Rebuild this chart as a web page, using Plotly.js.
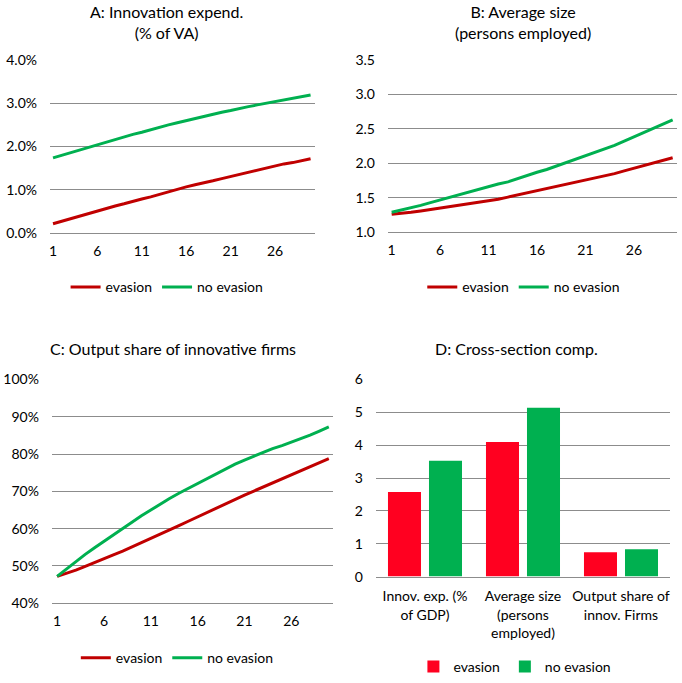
<!DOCTYPE html>
<html>
<head>
<meta charset="utf-8">
<script src="https://cdn.plot.ly/plotly-3.0.1.min.js"></script>
<style>html,body{margin:0;padding:0;background:#fff;}#chart{width:682px;height:683px;}</style>
</head>
<body>
<div id="chart"></div>
<script>
// ---- data ----
const periods = [1,2,3,4,5,6,7,8,9,10,11,12,13,14,15,16,17,18,19,20,21,22,23,24,25,26,27,28,29,30];
const xTickVals = [1,6,11,16,21,26];
const seriesNames = ['evasion','no evasion'];

// Panel A: Innovation expend. (% of VA), in percent
const innovEvasion = [0.22,0.28,0.33,0.39,0.46,0.52,0.58,0.63,0.68,0.74,0.79,0.84,0.90,0.96,1.01,1.07,1.12,1.16,1.21,1.26,1.31,1.36,1.41,1.46,1.51,1.56,1.60,1.63,1.68,1.72];
const innovNoEvasion = [1.74,1.80,1.86,1.92,1.99,2.05,2.11,2.17,2.23,2.28,2.33,2.39,2.44,2.50,2.55,2.60,2.65,2.70,2.74,2.79,2.83,2.88,2.92,2.96,3.00,3.04,3.08,3.12,3.16,3.19];

// Panel B: Average size (persons employed)
const sizeEvasion = [1.26,1.27,1.29,1.31,1.33,1.35,1.37,1.39,1.41,1.43,1.46,1.48,1.51,1.54,1.57,1.60,1.63,1.66,1.69,1.72,1.75,1.79,1.82,1.85,1.89,1.93,1.97,2.01,2.05,2.08];
const sizeNoEvasion = [1.29,1.32,1.36,1.39,1.43,1.47,1.50,1.54,1.58,1.62,1.66,1.70,1.73,1.78,1.83,1.87,1.91,1.96,2.01,2.05,2.10,2.16,2.21,2.26,2.32,2.38,2.44,2.50,2.57,2.63];

// Panel C: Output share of innovative firms, in percent
const shareEvasion = [47.2,48.0,48.9,49.9,51.0,52.0,53.0,54.0,55.1,56.3,57.4,58.5,59.6,60.8,62.0,63.2,64.3,65.5,66.7,67.9,69.0,70.1,71.2,72.4,73.5,74.6,75.7,76.8,77.8,78.8];
const shareNoEvasion = [47.2,49.2,51.2,53.1,54.9,56.6,58.4,60.2,61.9,63.5,65.0,66.6,68.1,69.5,70.8,72.1,73.5,74.8,76.0,77.3,78.4,79.5,80.5,81.5,82.3,83.2,84.1,85.1,86.2,87.3];

// Panel D: Cross-section comp.
const crossCategories = ['Innov. exp. (%<br>of GDP)','Average size<br>(persons<br>employed)','Output share of<br>innov. Firms'];
const crossEvasion = [2.58,4.10,0.74];
const crossNoEvasion = [3.53,5.14,0.83];

// ---- styles ----
const RED_LINE = '#C00000', GREEN_LINE = '#00B050';
const RED_BAR = '#FF0020', GREEN_BAR = '#00B050';
const GRID = '#8c8c8c';
const TXT = '#000000';
const FONT = 'Lato, "Open Sans", sans-serif';

const pct = a => a.map(v => v/100);

const traces = [
  {x: periods, y: pct(innovEvasion), type:'scatter', mode:'lines', name: seriesNames[0], line:{color:RED_LINE,width:3}, xaxis:'x', yaxis:'y', legend:'legend'},
  {x: periods, y: pct(innovNoEvasion), type:'scatter', mode:'lines', name: seriesNames[1], line:{color:GREEN_LINE,width:3}, xaxis:'x', yaxis:'y', legend:'legend'},
  {x: periods, y: sizeEvasion, type:'scatter', mode:'lines', name: seriesNames[0], line:{color:RED_LINE,width:3}, xaxis:'x2', yaxis:'y2', legend:'legend2'},
  {x: periods, y: sizeNoEvasion, type:'scatter', mode:'lines', name: seriesNames[1], line:{color:GREEN_LINE,width:3}, xaxis:'x2', yaxis:'y2', legend:'legend2'},
  {x: periods, y: pct(shareEvasion), type:'scatter', mode:'lines', name: seriesNames[0], line:{color:RED_LINE,width:3}, xaxis:'x3', yaxis:'y3', legend:'legend3'},
  {x: periods, y: pct(shareNoEvasion), type:'scatter', mode:'lines', name: seriesNames[1], line:{color:GREEN_LINE,width:3}, xaxis:'x3', yaxis:'y3', legend:'legend3'},
  {x: crossCategories, y: crossEvasion, type:'bar', name: seriesNames[0], marker:{color:RED_BAR}, xaxis:'x4', yaxis:'y4', legend:'legend4'},
  {x: crossCategories, y: crossNoEvasion, type:'bar', name: seriesNames[1], marker:{color:GREEN_BAR}, xaxis:'x4', yaxis:'y4', legend:'legend4'}
];

const tickFont = {family: FONT, size: 14, color: TXT};
function xLine(domain, range, anchor) {
  return {domain, range, anchor, tickvals: xTickVals, ticktext: xTickVals.map(String), showgrid:false, zeroline:false,
    showline:true, linecolor:GRID, linewidth:1, ticks:'', tickfont: tickFont, ticklabelstandoff: 5, fixedrange:true};
}
function yAxis(domain, range, dtick, fmt, anchor) {
  return {domain, range, anchor, dtick, tick0: range[0], tickformat: fmt, showgrid:true, gridcolor:GRID, gridwidth:1,
    zeroline:false, showline:false, ticks:'', tickfont: tickFont, ticklabelstandoff: 12, fixedrange:true};
}
function legendAt(x, y) {
  return {orientation:'h', x, y, xanchor:'center', yanchor:'middle', bgcolor:'rgba(0,0,0,0)',
    font:{family: FONT, size: 14, color: TXT}, traceorder:'normal', itemclick:false};
}
const titleFont = {family: FONT, size: 16, color: TXT};
function title(text, x, y) {
  return {text, x, y, xref:'paper', yref:'paper', xanchor:'center', yanchor:'middle', showarrow:false, font: titleFont};
}

const layout = {
  width: 682, height: 683,
  margin: {l:0, r:0, t:0, b:0},
  paper_bgcolor:'#fff', plot_bgcolor:'#fff',
  font: {family: FONT, color: TXT},
  showlegend: true,
  bargap: 0.163, bargroupgap: 0.195, barmode:'group',
  xaxis: xLine([0.0733, 0.4619], [0.66, 30.5], 'y'),
  yaxis: yAxis([0.6574, 0.9122], [0, 0.04], 0.01, '.1%', 'x'),
  xaxis2: xLine([0.5689, 0.9927], [0.62, 30.45], 'y2'),
  yaxis2: yAxis([0.6589, 0.9122], [1, 3.5], 0.5, '.1f', 'x2'),
  xaxis3: xLine([0.0762, 0.4883], [0.45, 30.45], 'y3'),
  yaxis3: yAxis([0.1142, 0.4426], [0.4, 1.0], 0.1, '.0%', 'x3'),
  xaxis4: {domain:[0.5513, 0.9824], anchor:'y4', showgrid:false, zeroline:false, showline:true, linecolor:GRID, ticks:'',
    tickfont: {family: FONT, size: 14, color: TXT}, ticklabelstandoff: 7, fixedrange:true, tickangle:0},
  yaxis4: yAxis([0.1533, 0.4426], [0, 6], 1, 'd', 'x4'),
  legend: legendAt(0.245, 0.578),
  legend2: legendAt(0.768, 0.578),
  legend3: legendAt(0.26, 0.0337),
  legend4: legendAt(0.755, 0.0205),
  annotations: [
    title('A: Innovation expend.<br>(% of VA)', 166/682, 1-22/683),
    title('B: Average size<br>(persons employed)', 523/682, 1-22/683),
    title('C: Output share of innovative firms', 173/682, 1-350/683),
    title('D: Cross-section comp.', 516/682, 1-350/683)
  ]
};

Plotly.newPlot('chart', traces, layout, {displayModeBar:false, staticPlot:true});
</script>
</body>
</html>
